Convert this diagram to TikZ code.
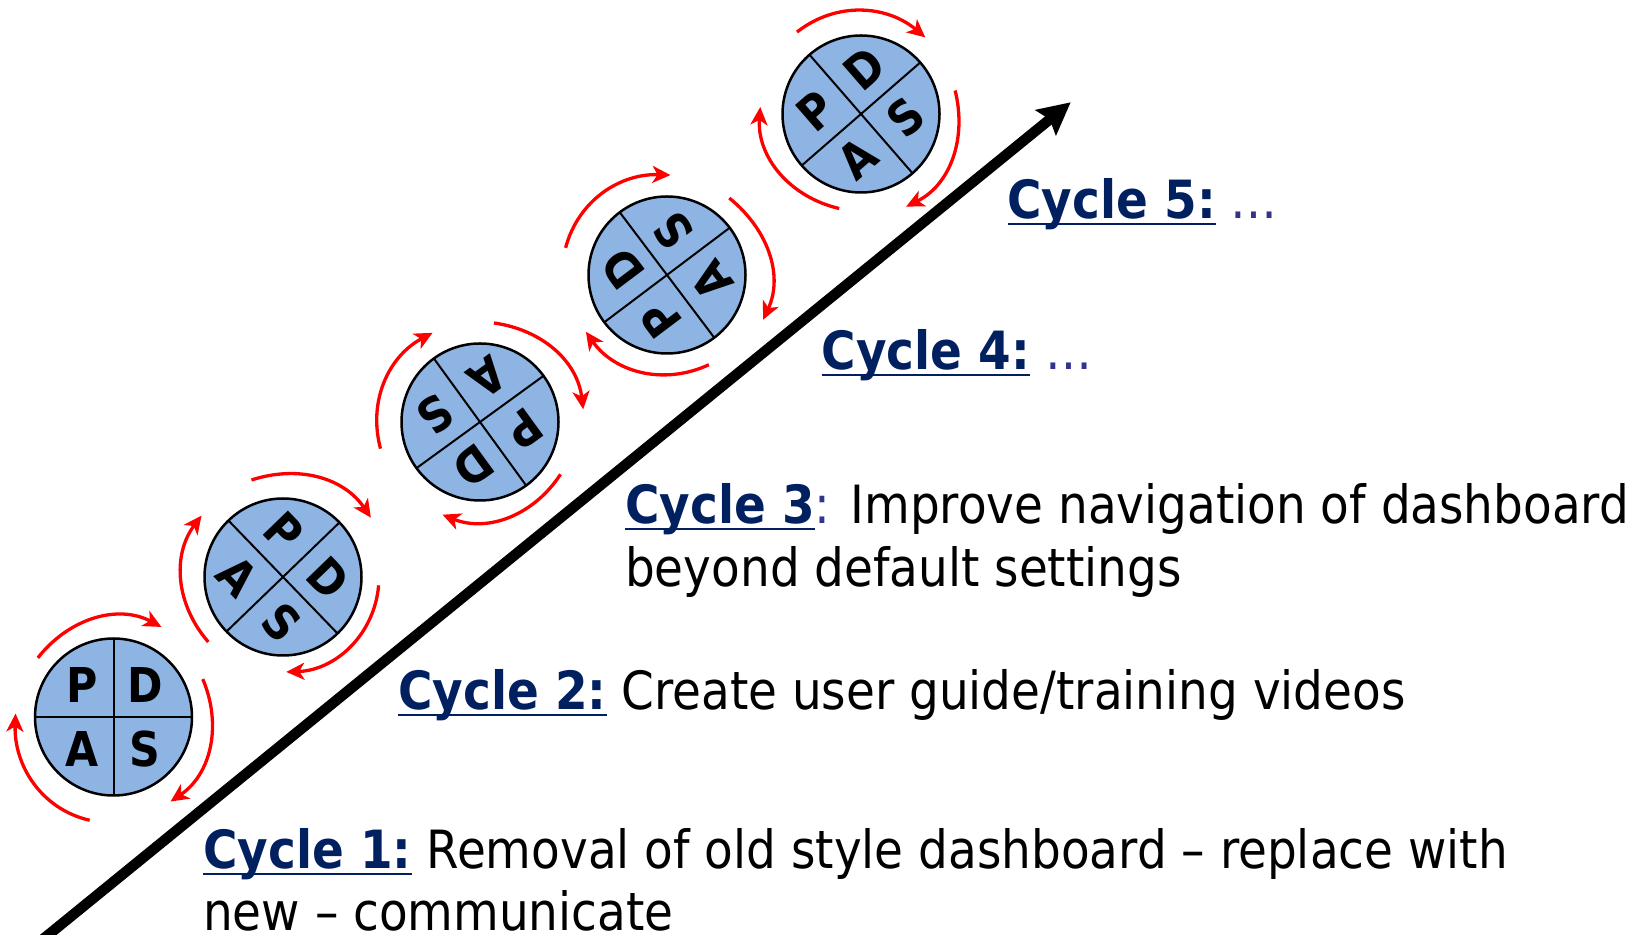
\documentclass[tikz,border=0pt]{standalone}
\usepackage{fontspec}
\setmainfont{DejaVu Sans}[FakeStretch=0.89]
\usetikzlibrary{calc,arrows.meta}
\definecolor{pdsafill}{RGB}{142,180,227}
\definecolor{navy}{RGB}{0,32,96}
\definecolor{dotblue}{RGB}{51,51,140}
\newcommand\cycul[1]{\setbox0\hbox{#1}\rlap{\rule[-7pt]{\wd0}{2.7pt}}\box0}
\newcommand\pdsaunit[3]{%
  \node[pdsa] (#1) at (#2) {};
  \draw[divider] ($(#1.center)+(#3:78.5)$) -- ($(#1.center)+(#3+180:78.5)$);
  \draw[divider] ($(#1.center)+(#3+90:78.5)$) -- ($(#1.center)+(#3+270:78.5)$);
  \node[letter,rotate=#3] (#1P) at ($(#1.center)+(#3+135:45)$) {P};
  \node[letter,rotate=#3] (#1D) at ($(#1.center)+(#3+45:45)$) {D};
  \node[letter,rotate=#3] (#1S) at ($(#1.center)+(#3-45:45)$) {S};
  \node[letter,rotate=#3] (#1A) at ($(#1.center)+(#3-135:45)$) {A};
}
\newcommand\cycarrow[5]{%
  \pgfmathsetmacro\cycout{#2-90}%
  \pgfmathsetmacro\cycin{#4+90}%
  \draw[cyc] ($(#1.center)+(#2:#3)$) to[out=\cycout,in=\cycin] ($(#1.center)+(#4:#5)$);
}
\begin{document}
\begin{tikzpicture}[x=1pt,y=1pt,
  pdsa/.style={circle,draw=black,line width=2.5pt,fill=pdsafill,minimum size=157pt,inner sep=0pt},
  divider/.style={line width=2pt},
  letter/.style={inner sep=0pt,font=\fontsize{48}{48}\selectfont\bfseries},
  cyc/.style={draw=red,line width=3.3pt,-{Stealth[length=18pt,width=17pt,inset=5pt]}},
  caption/.style={anchor=base west,inner sep=0pt,font=\fontsize{52.7}{63.4}\selectfont},
  trend/.style={line width=10.5pt,-{Stealth[length=32pt,width=32pt,inset=5pt]}}
]
\useasboundingbox (0,0) rectangle (1651,934);
\fill[white] (0,0) rectangle (1651,934);

% trend arrow
\coordinate (trendstart) at (42,-6);
\coordinate (trendend) at (1070.7,831.7);
\draw[trend] (trendstart) -- (trendend);

% PDSA circles
\pdsaunit{u1}{113.5,217}{0}
\pdsaunit{u2}{283,357}{-46}
\pdsaunit{u3}{480,512}{-144}
\pdsaunit{u4}{667,659}{127}
\pdsaunit{u5}{861,820}{41}

% red cycle arrows
\cycarrow{u1}{142}{96}{62}{102}
\cycarrow{u1}{23}{97}{-56}{102}
\cycarrow{u1}{-103}{106}{178}{98}

\cycarrow{u2}{108}{102}{34}{106}
\cycarrow{u2}{-5}{96}{-88}{95}
\cycarrow{u2}{-139}{99}{143}{102}

\cycarrow{u3}{82}{100}{7}{104}
\cycarrow{u3}{-33}{96}{-112}{100}
\cycarrow{u3}{-165}{103}{118}{101}

\cycarrow{u4}{165}{105}{88}{100}
\cycarrow{u4}{51}{99}{-25}{106}
\cycarrow{u4}{-65}{99}{-145}{99}

\cycarrow{u5}{128}{104}{50}{100}
\cycarrow{u5}{14}{97}{-64}{103}
\cycarrow{u5}{-103}{97}{176}{101}

% captions
\node[caption] (c1) at (203,65.7) {\textcolor{navy}{\cycul{\bfseries Cycle 1:}} Removal of old style dashboard – replace with};
\node[caption] (c1b) at (203,3.5) {new – communicate};
\node[caption] (c2) at (398,224.7) {\textcolor{navy}{\cycul{\bfseries Cycle 2:}} Create user guide/training videos};
\node[caption] (c3) at (625,410.7) {\textcolor{navy}{\cycul{\bfseries Cycle 3}}\textcolor{dotblue}{:} Improve navigation of dashboard};
\node[caption] (c3b) at (625,347.3) {beyond default settings};
\node[caption] (c4) at (821.7,564.7) {\textcolor{navy}{\cycul{\bfseries Cycle 4:}} \textcolor{dotblue}{…}};
\node[caption] (c5) at (1007.3,715.7) {\textcolor{navy}{\cycul{\bfseries Cycle 5:}} \textcolor{dotblue}{…}};
\end{tikzpicture}
\end{document}
